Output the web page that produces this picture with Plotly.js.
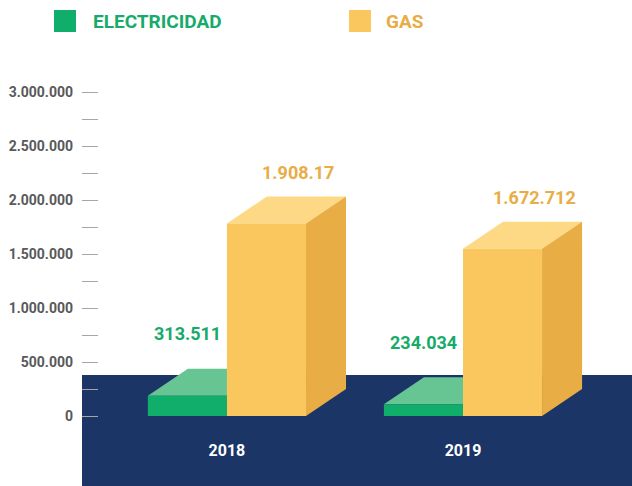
<!DOCTYPE html>
<html>
<head>
<meta charset="utf-8">
<script src="https://cdn.plot.ly/plotly-3.0.1.min.js"></script>
<style>html,body{margin:0;padding:0;background:#fff;}#chart{width:632px;height:486px;}</style>
</head>
<body>
<div id="chart"></div>
<script>
// ---- data ----
const years = ['2018', '2019'];
const electricidad = [313511, 234034];
const gas = [1908170, 1672712];
const elecLabels = ['313.511', '234.034'];
const gasLabels = ['1.908.17', '1.672.712'];
const seriesNames = ['ELECTRICIDAD', 'GAS'];
const yTickVals = [0, 500000, 1000000, 1500000, 2000000, 2500000, 3000000];
const yTickText = ['0', '500.000', '1.000.000', '1.500.000', '2.000.000', '2.500.000', '3.000.000'];
const yMinorVals = [250000, 750000, 1250000, 1750000, 2250000, 2750000];

// ---- style ----
const W = 632, H = 486, ML = 82, MT = 50;
const BAR_W = 0.335;      // bar width in category units
const DX = 0.1695;        // 3D depth, x (category units)
const DY = 250000;        // 3D depth, y (data units)
const FLOOR_TOP = 380000; // top of navy floor band
const Y_RANGE = [-648000, 3389000];
const X_RANGE = [-0.614, 1.716];
const C = {
  green: '#10ae6a', greenTop: '#67c594', greenText: '#17ab6b',
  gas: '#fac65e', gasTop: '#fdd985', gasSide: '#e8ad45', gasText: '#e8ad45',
  navy: '#1b3666', tickText: '#58595b', tick: '#a6a6a6'
};
const FONT = 'Roboto, "DejaVu Sans", sans-serif';

const xs = years.map((_, i) => i);
const front = v => v - DY / 2;

const traces = [
  {type: 'bar', name: seriesNames[0], x: xs, y: electricidad.map(front),
   width: BAR_W, offset: -BAR_W, marker: {color: C.green, line: {width: 0}},
   hoverinfo: 'skip', showlegend: false},
  {type: 'bar', name: seriesNames[1], x: xs, y: gas.map(front),
   width: BAR_W, offset: 0, marker: {color: C.gas, line: {width: 0}},
   hoverinfo: 'skip', showlegend: false}
];

const shapes = [
  {type: 'rect', layer: 'below', xref: 'paper', yref: 'y', x0: 0, x1: 1,
   y0: Y_RANGE[0], y1: FLOOR_TOP, fillcolor: C.navy, line: {width: 0}}
];
function topFace(x0, x1, yf, color) {
  return {type: 'path', layer: 'below', xref: 'x', yref: 'y', fillcolor: color, line: {width: 0},
    path: `M${x0},${yf} L${x1},${yf} L${x1 + DX},${yf + DY} L${x0 + DX},${yf + DY} Z`};
}
function sideFace(x1, yf, color) {
  return {type: 'path', layer: 'below', xref: 'x', yref: 'y', fillcolor: color, line: {width: 0},
    path: `M${x1},0 L${x1 + DX},${DY} L${x1 + DX},${yf + DY} L${x1},${yf} Z`};
}
xs.forEach(i => {
  shapes.push(topFace(i - BAR_W, i, front(electricidad[i]), C.greenTop));
  shapes.push(topFace(i, i + BAR_W, front(gas[i]), C.gasTop));
  shapes.push(sideFace(i + BAR_W, front(gas[i]), C.gasSide));
});

// legend (drawn with shapes + text)
const px = p => (p - ML) / (W - ML);
const py = p => (H - p) / (H - MT);
shapes.push({type: 'rect', xref: 'paper', yref: 'paper', x0: px(54), x1: px(76), y0: py(32), y1: py(10),
  fillcolor: C.green, line: {width: 0}});
shapes.push({type: 'rect', xref: 'paper', yref: 'paper', x0: px(349), x1: px(371), y0: py(32), y1: py(10),
  fillcolor: C.gas, line: {width: 0}});

const annotations = [
  {xref: 'paper', yref: 'paper', x: px(91), y: py(21), xanchor: 'left', yanchor: 'middle', showarrow: false,
   text: seriesNames[0], font: {family: FONT, size: 19, weight: 'bold', color: C.greenText}},
  {xref: 'paper', yref: 'paper', x: px(384), y: py(21), xanchor: 'left', yanchor: 'middle', showarrow: false,
   text: seriesNames[1], font: {family: FONT, size: 19, weight: 'bold', color: C.gasText}}
];
xs.forEach(i => {
  annotations.push({xref: 'x', yref: 'y', x: i - BAR_W / 2, y: electricidad[i] + DY / 2, yshift: 35,
    showarrow: false, text: elecLabels[i], font: {family: FONT, size: 18, weight: 'bold', color: C.greenText}});
  annotations.push({xref: 'x', yref: 'y', x: i + BAR_W / 2, y: gas[i] + DY / 2, xshift: 32, yshift: 24,
    showarrow: false, text: gasLabels[i], font: {family: FONT, size: 18, weight: 'bold', color: C.gasText}});
});

const layout = {
  width: W, height: H,
  margin: {l: ML, r: 0, t: MT, b: 0, pad: 0},
  paper_bgcolor: '#ffffff', plot_bgcolor: 'rgba(0,0,0,0)',
  barmode: 'overlay', showlegend: false,
  xaxis: {range: X_RANGE, tickvals: xs, ticktext: years, ticks: '', showgrid: false, zeroline: false,
    showline: false, ticklabelposition: 'inside', ticklabelstandoff: 24,
    tickfont: {family: FONT, size: 16, weight: 'bold', color: '#ffffff'}, fixedrange: true},
  yaxis: {range: Y_RANGE, tickvals: yTickVals, ticktext: yTickText, ticks: 'inside', ticklen: 16,
    tickwidth: 1, tickcolor: C.tick, showgrid: false, zeroline: false, showline: false,
    ticklabelstandoff: 8,
    minor: {tickvals: yMinorVals, ticks: 'inside', ticklen: 16, tickwidth: 1, tickcolor: C.tick, showgrid: false},
    tickfont: {family: FONT, size: 14, weight: 'bold', color: C.tickText}, fixedrange: true},
  shapes: shapes,
  annotations: annotations
};

Plotly.newPlot('chart', traces, layout, {displayModeBar: false, staticPlot: true});
</script>
</body>
</html>
